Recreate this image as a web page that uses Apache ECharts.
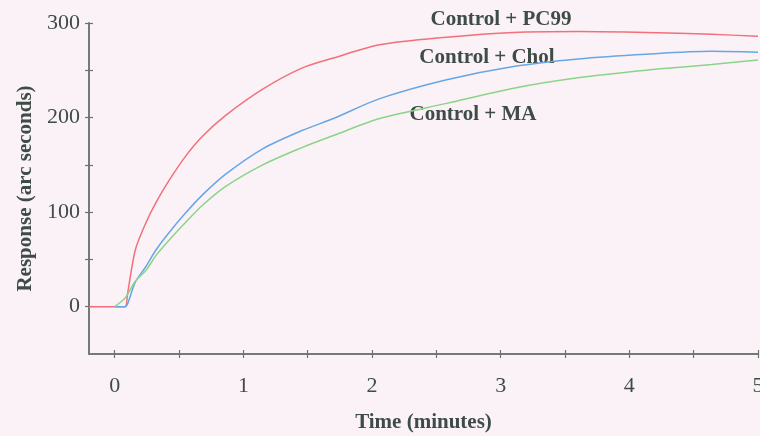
<!DOCTYPE html>
<html>
<head>
<meta charset="utf-8">
<title>Response vs time</title>
<script src="https://cdn.jsdelivr.net/npm/echarts@6/dist/echarts.min.js"></script>
<style>
  html, body { margin: 0; padding: 0; background: #fbf2f7; }
  #EchartsOne { width: 760px; height: 436px; }
</style>
</head>
<body>
<div id="EchartsOne"></div>
<script>
// time (minutes) shared by all three curves
var times = [-0.2, 0, 0.08, 0.1, 0.16, 0.24, 0.32, 0.42, 0.55, 0.68, 0.86, 1.15, 1.45, 1.7, 2.06, 2.58, 3.1, 3.6, 4.13, 4.64, 5.0];
// response (arc seconds)
var pc99 = [0, 0, 0, 14, 60, 88, 110, 133, 159, 180, 202, 230, 252, 263, 277, 285, 290, 291, 290, 288, 286];
var chol = [null, 0, 0, 3, 26, 42, 60, 78, 99, 118, 140, 167, 186, 199, 220, 240, 254, 262, 267, 270, 269];
var ma = [null, 0, 9, 13, 27, 38, 54, 70, 89, 107, 127, 150, 168, 181, 199, 215, 231, 242, 250, 256, 261];

var seriesNames = ["Control + PC99", "Control + Chol", "Control + MA"];
var seriesColors = ["#f2707a", "#68a6e4", "#8bd487"];

var xLabelValues = [0, 1, 2, 3, 4, 5];
var xTickValues = [0, 0.5, 1, 1.5, 2, 2.5, 3, 3.5, 4, 4.5, 5];
var yLabelValues = [0, 100, 200, 300];
var yTickValues = [0, 50, 100, 150, 200, 250, 300];

function pairs(vals) {
  var out = [];
  for (var i = 0; i < times.length; i++) {
    if (vals[i] !== null) out.push([times[i], vals[i]]);
  }
  return out;
}

var textColor = "#3e4b46";
var axisColor = "#6b746f";
var serif = "Liberation Serif";

// one axis draws ticks outside, its twin draws them inside, so ticks cross the line
function xAxisDef(inside) {
  return {
    type: "value",
    min: -0.2,
    max: 5,
    position: "bottom",
    splitLine: { show: false },
    axisLine: { show: true, onZero: false, lineStyle: { color: axisColor, width: 1.5 } },
    axisTick: { show: true, inside: inside, length: 4, customValues: xTickValues, lineStyle: { color: axisColor, width: 1.2 } },
    axisLabel: {
      show: !inside,
      customValues: xLabelValues, margin: 21, color: textColor,
      fontFamily: serif, fontSize: 22, showMaxLabel: true
    },
    name: inside ? "" : "Time (minutes)",
    nameLocation: "middle",
    nameGap: 58,
    nameTextStyle: { color: textColor, fontFamily: serif, fontSize: 21, fontWeight: "bold" }
  };
}

function yAxisDef(inside) {
  return {
    type: "value",
    min: -50,
    max: 300,
    position: "left",
    splitLine: { show: false },
    axisLine: { show: true, onZero: false, lineStyle: { color: axisColor, width: 1.5 } },
    axisTick: { show: true, inside: inside, length: 4, customValues: yTickValues, lineStyle: { color: axisColor, width: 1.2 } },
    axisLabel: {
      show: !inside,
      customValues: yLabelValues, margin: 9, color: textColor,
      fontFamily: serif, fontSize: 22
    },
    name: inside ? "" : "Response (arc seconds)",
    nameLocation: "middle",
    nameGap: 53,
    nameTextStyle: { color: textColor, fontFamily: serif, fontSize: 21, fontWeight: "bold" }
  };
}

var curves = [pc99, chol, ma];
var series = [];
for (var i = 0; i < curves.length; i++) {
  series.push({
    name: seriesNames[i],
    type: "line",
    data: pairs(curves[i]),
    smooth: 0.3,
    showSymbol: false,
    lineStyle: { color: seriesColors[i], width: 1.5 }
  });
}

// curve labels written on the plot
var labelPos = [[501, 20], [487, 58], [473, 115]];
var graphic = [];
for (var j = 0; j < seriesNames.length; j++) {
  graphic.push({
    type: "text",
    x: labelPos[j][0],
    y: labelPos[j][1],
    style: {
      text: seriesNames[j],
      fill: textColor,
      font: "bold 21px 'Liberation Serif'",
      align: "center",
      verticalAlign: "middle"
    }
  });
}

var option = {
  backgroundColor: "#fbf2f7",
  animation: false,
  grid: { left: 89, right: 2, top: 23, bottom: 82, containLabel: false, outerBoundsMode: "none" },
  xAxis: [xAxisDef(false), xAxisDef(true)],
  yAxis: [yAxisDef(false), yAxisDef(true)],
  series: series,
  graphic: graphic
};

var myChart = echarts.init(document.getElementById("EchartsOne"));
myChart.setOption(option);
</script>
</body>
</html>
